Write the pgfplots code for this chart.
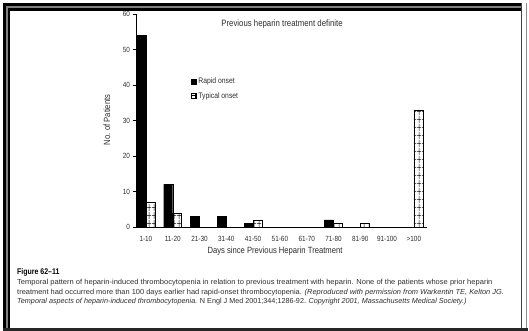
\documentclass[border=0pt]{standalone}
\usepackage{pgfplots}
\pgfplotsset{compat=1.18}
\usetikzlibrary{patterns.meta}
\usepackage{fontspec}
\setmainfont{Liberation Sans}[FakeStretch=0.85]
\newfontfamily\capfont{Liberation Sans}

% open grid fill used for the typical-onset bars
\tikzdeclarepattern{
  name=cellgrid,
  type=uncolored,
  bounding box={(0pt,0pt) and (4.6pt,8pt)},
  tile size={(4.6pt,8pt)},
  code={
    \draw[line width=0.7pt] (0pt,4pt) -- (4.6pt,4pt);
    \draw[line width=0.7pt] (2.3pt,0pt) -- (2.3pt,8pt);
  }
}

\newcommand{\fs}[1]{\fontsize{#1}{#1}\selectfont}
\colorlet{txt}{black!82}

\begin{document}
\begin{tikzpicture}[x=1pt,y=1pt]
\useasboundingbox (0,0) rectangle (529,331);
\fill[white] (0,0) rectangle (529,331);

% page frame
\draw[line width=3pt, black] (4,1.5) -- (4,326.5) -- (522,326.5);
\draw[line width=2pt, black!50] (6.5,1.5) -- (6.5,324) -- (522,324);
\draw[line width=2.5pt, black] (9,1.5) -- (9,321.5) -- (522,321.5);
\draw[line width=1pt, black!75] (521.5,1.5) -- (521.5,327.5);
\draw[line width=1pt, black!45] (526.5,1.5) -- (526.5,328);
\draw[line width=2.5pt, black!85] (3,1.5) -- (528,1.5);

\begin{axis}[
  at={(136pt,104pt)}, anchor=south west,
  scale only axis, width=291pt, height=213pt,
  xmin=-0.37, xmax=10.49, ymin=0, ymax=60,
  axis lines=left,
  axis line style={-, line width=0.8pt, black},
  xtick={0,...,10},
  xticklabels={1-10,11-20,21-30,31-40,41-50,51-60,61-70,71-80,81-90,91-100,\textgreater100},
  x tick style={draw=none},
  ytick={0,10,...,60},
  tick align=outside,
  major tick length=3.5pt,
  y tick style={line width=0.6pt, black},
  /pgf/number format/assume math mode=true,
  tick label style={font=\fs{7.5}, text=txt},
  xticklabel style={yshift=-2pt},
  yticklabel style={xshift=1pt},
  legend style={at={(0.19,0.71)}, anchor=north west, draw=none, fill=none,
    font=\fs{8}, text=txt, row sep=3.5pt, inner sep=0pt,
    legend cell align=left},
  legend image code/.code={\draw[#1, line width=0.4pt] (0pt,-2.2pt) rectangle (4.5pt,2.8pt);},
]
\addplot[ybar, bar width=9pt, bar shift=-4.5pt, fill=black, draw=black, line width=0.4pt]
  coordinates {(0,54) (1,12) (2,3) (3,3) (4,1) (7,2)};
\addlegendentry{Rapid onset}
\addplot[ybar, bar width=9pt, bar shift=4.5pt, draw=black, line width=0.5pt,
  pattern=cellgrid, pattern color=black]
  coordinates {(0,7) (1,4) (4,2) (7,1) (8,1) (10,33)};
\addlegendentry{Typical onset}
\end{axis}

% titles and axis captions
\node[text=txt, font=\fs{9.2}] at (282,307) {Previous heparin treatment definite};
\node[text=txt, font=\fs{9}] at (275,80) {Days since Previous Heparin Treatment};
\node[text=txt, font=\fs{9}, rotate=90] at (107,211) {No. of Patients};

% figure caption
\node[anchor=base west, inner sep=0pt, text=black, font=\capfont\fs{8.2}\bfseries, xscale=0.85] at (17,56) {Figure 62–11};
\node[anchor=base west, inner sep=0pt, text=txt, font=\capfont\fs{7.3}, xscale=1.035] at (17,46)
  {Temporal pattern of heparin-induced thrombocytopenia in relation to previous treatment with heparin. None of the patients whose prior heparin};
\node[anchor=base west, inner sep=0pt, text=txt, font=\capfont\fs{7.3}, xscale=1.02] at (17,36.5)
  {treatment had occurred more than 100 days earlier had rapid-onset thrombocytopenia. \textit{(Reproduced with permission from Warkentin TE, Kelton JG.}};
\node[anchor=base west, inner sep=0pt, text=txt, font=\capfont\fs{7.3}, xscale=0.99] at (17,27)
  {\textit{Temporal aspects of heparin-induced thrombocytopenia.} N Engl J Med 2001;344;1286-92. \textit{Copyright 2001, Massachusetts Medical Society.)}};
\end{tikzpicture}
\end{document}
